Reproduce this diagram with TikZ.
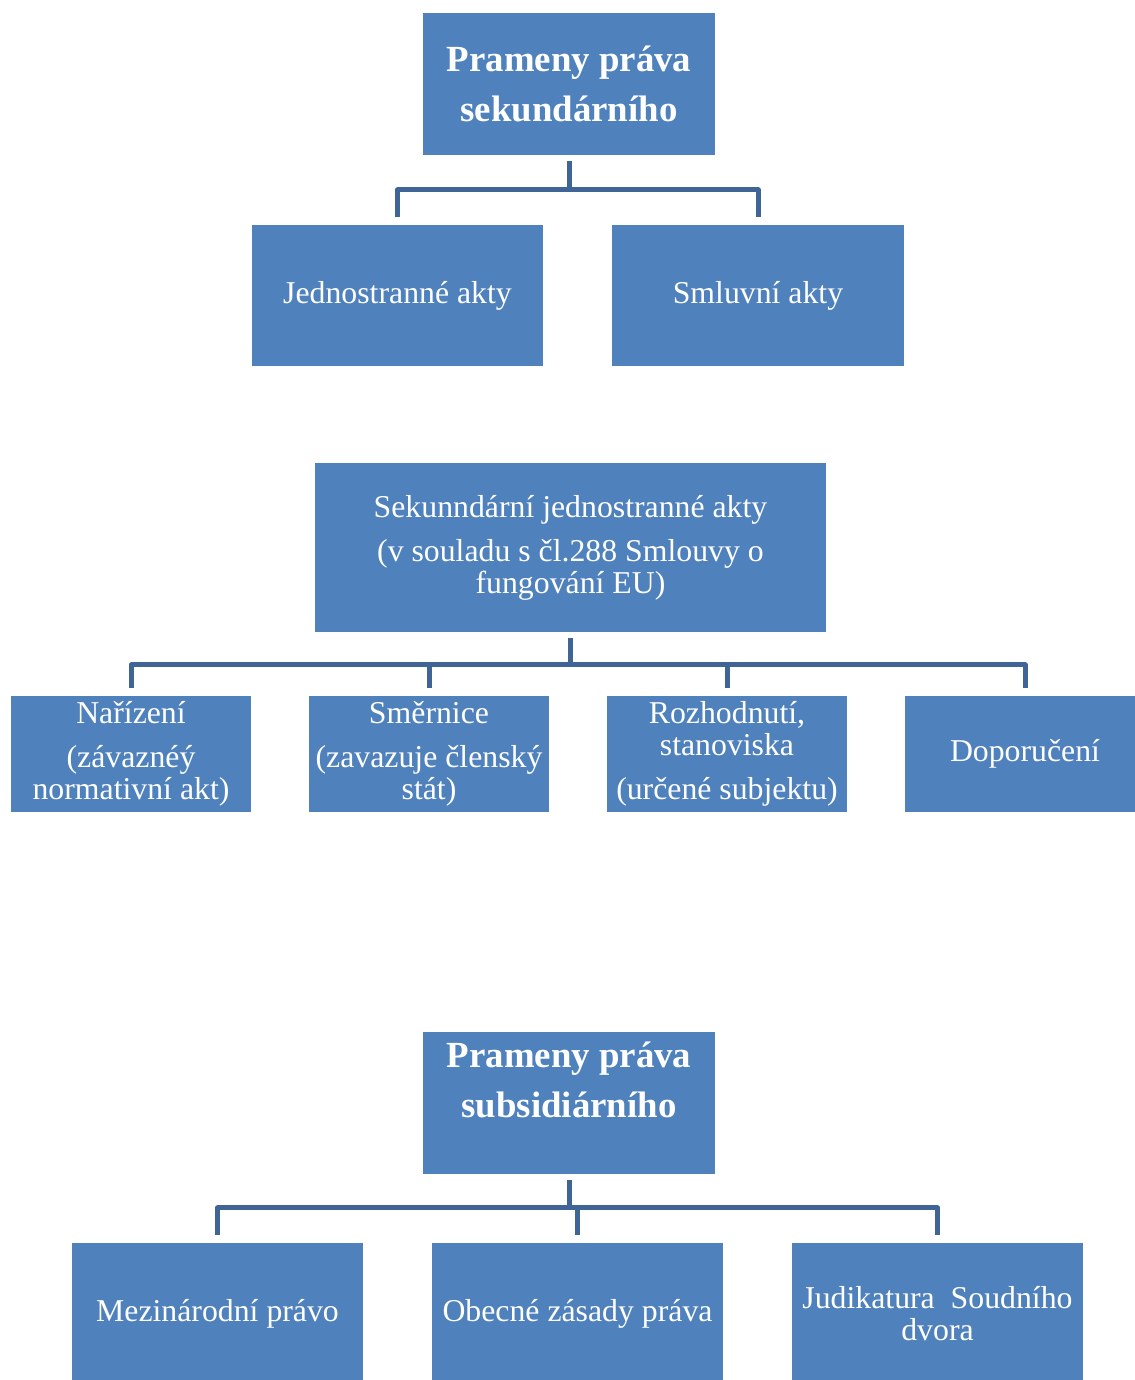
\documentclass[tikz,border=0pt]{standalone}
\usepackage{fontspec}
\setmainfont{Liberation Serif}
\definecolor{boxblue}{HTML}{4F81BD}
\definecolor{linkblue}{HTML}{3F6597}

\begin{document}
\begin{tikzpicture}[x=0.025cm,y=0.025cm,
  box/.style={fill=boxblue, text=white, align=center, inner sep=0pt,
    font=\fontsize{22.6}{22.8}\selectfont},
  head/.style={box, minimum width=7.3cm, minimum height=3.55cm,
    font=\bfseries\fontsize{26.2}{35.6}\selectfont},
  kind/.style={box, minimum width=7.275cm, minimum height=3.525cm},
  act/.style={box, minimum width=6cm, minimum height=2.9cm},
  link/.style={draw=linkblue, line width=0.125cm, line join=round},
  stem/.style={link, shorten <=0.14cm},
  drop/.style={link, shorten >=0.18cm}]
\useasboundingbox (0,0) rectangle (1135,1380);

% sekundarni pravo
\node[head] (sek) at (569,1296) {Prameny práva\\sekundárního};
\node[kind] (jedn) at (397.5,1084.5) {Jednostranné akty};
\node[kind] (smlu) at (758,1084.5) {Smluvní akty};
\coordinate (b1) at (569,1190);
\draw[stem] (sek.south) -- (b1);
\draw[drop] (b1) -| (jedn.north);
\draw[drop] (b1) -| (smlu.north);

% jednostranne akty
\node[box, minimum width=12.775cm, minimum height=4.225cm] (jak) at (570.5,832.5)
  {Sekunndární jednostranné akty\\[8.5pt](v souladu s čl.288 Smlouvy o\\fungování EU)};
\node[act] (nar) at (131,626) {Nařízení\\[8.5pt](závaznéý\\normativní akt)};
\node[act] (smer) at (429,626) {Směrnice\\[8.5pt](zavazuje členský\\stát)};
\node[act] (roz) at (727,626) {Rozhodnutí,\\stanoviska\\[8.5pt](určené subjektu)};
\node[act] (dop) at (1025,626) {Doporučení};
\coordinate (b2) at (570.5,715);
\draw[stem] (jak.south) -- (b2);
\foreach \n in {nar,smer,roz,dop}
  \draw[drop] (b2) -| (\n.north);

% subsidiarni pravo
\node[head, text depth=1.15cm] (sub) at (569,277) {Prameny práva\\subsidiárního};
\node[kind] (mez) at (217.5,66.5) {Mezinárodní právo};
\node[kind] (obe) at (577.5,66.5) {Obecné zásady práva};
\node[kind] (jud) at (937.5,66.5) {Judikatura\ \ Soudního\\dvora};
\coordinate (b3) at (569,172);
\draw[stem] (sub.south) -- (b3);
\foreach \n in {mez,obe,jud}
  \draw[drop] (b3) -| (\n.north);
\end{tikzpicture}
\end{document}
